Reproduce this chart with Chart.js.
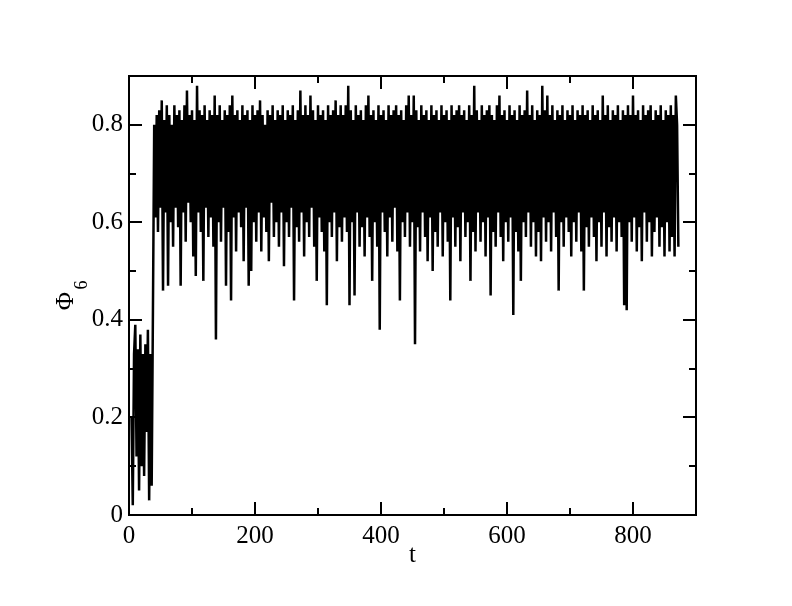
<!DOCTYPE html>
<html>
<head>
<meta charset="utf-8">
<script src="https://cdn.jsdelivr.net/npm/chart.js@4.4.1/dist/chart.umd.min.js"></script>
<style>
  html, body { margin: 0; padding: 0; background: #fff; }
  #wrap { width: 792px; height: 606px; }
</style>
</head>
<body>
<div id="wrap"><canvas id="phiChart" width="792" height="606"></canvas></div>
<script>
// time samples: t = 4, 6, 8, ... 872
const tStart = 4;
const tStep = 2;

// disordered phase, t = 4..36
const phiEarly = [.20,.02,.33,.39,.12,.34,.05,.37,.10,.33,.08,.35,.17,.38,.03,.33,.06];
// t = 38..136
const phi1 = [.42,.80,.61,.82,.58,.83,.63,.85,.46,.81,.62,.84,.47,.82,.60,.80,.55,.84,.63,.82,.59,.83,.47,.81,.62,.84,.56,.87,.64,.82,.60,.83,.53,.81,.49,.88,.62,.83,.58,.82,.48,.84,.63,.81,.57,.83,.61,.82,.55,.86];
// t = 138..236
const phi2 = [.36,.82,.60,.84,.56,.81,.63,.83,.47,.82,.58,.84,.44,.86,.61,.82,.54,.83,.62,.81,.59,.84,.52,.82,.63,.83,.47,.81,.50,.84,.60,.82,.56,.83,.62,.85,.54,.82,.61,.80,.58,.83,.52,.82,.64,.84,.57,.81,.60,.83];
// t = 238..336
const phi3 = [.55,.82,.62,.84,.51,.81,.60,.83,.57,.82,.63,.84,.44,.81,.59,.83,.56,.87,.62,.82,.53,.84,.60,.82,.57,.86,.63,.83,.55,.81,.48,.84,.61,.82,.58,.83,.54,.81,.43,.84,.60,.82,.57,.83,.62,.85,.52,.82,.59,.84];
// t = 338..436
const phi4 = [.56,.82,.61,.84,.58,.88,.43,.83,.60,.81,.45,.84,.62,.82,.55,.83,.59,.81,.53,.84,.61,.86,.57,.82,.48,.83,.60,.81,.55,.84,.38,.82,.62,.83,.58,.81,.53,.84,.61,.82,.56,.83,.63,.84,.54,.82,.44,.83,.60,.81];
// t = 438..536
const phi5 = [.57,.84,.62,.86,.55,.82,.60,.86,.35,.83,.59,.81,.54,.84,.62,.82,.57,.83,.52,.81,.61,.84,.50,.82,.58,.83,.55,.81,.62,.84,.53,.82,.60,.83,.56,.81,.44,.84,.61,.82,.55,.83,.59,.84,.52,.82,.62,.83,.57,.81];
// t = 538..636
const phi6 = [.60,.84,.48,.82,.58,.88,.54,.83,.62,.81,.56,.84,.60,.82,.53,.83,.61,.84,.45,.82,.58,.81,.55,.84,.62,.86,.57,.82,.52,.83,.60,.81,.56,.84,.61,.82,.41,.83,.58,.81,.54,.84,.48,.82,.60,.83,.57,.87,.62,.82];
// t = 638..736
const phi7 = [.55,.84,.60,.81,.53,.83,.58,.82,.52,.88,.61,.83,.56,.86,.60,.82,.54,.84,.62,.81,.57,.83,.46,.82,.60,.84,.55,.81,.61,.83,.58,.82,.53,.84,.60,.81,.56,.83,.62,.82,.54,.84,.46,.82,.59,.83,.55,.81,.61,.84];
// t = 738..836
const phi8 = [.57,.82,.52,.83,.60,.81,.55,.86,.62,.82,.53,.84,.59,.81,.56,.83,.61,.82,.54,.84,.60,.81,.57,.83,.43,.82,.42,.84,.60,.82,.56,.86,.61,.82,.54,.83,.59,.81,.52,.84,.62,.82,.56,.83,.60,.84,.53,.81,.58,.83];
// t = 838..872
const phi9 = [.61,.82,.55,.84,.59,.81,.53,.83,.60,.82,.54,.84,.57,.82,.53,.86,.80,.55];

const xTicksMajor = [0, 200, 400, 600, 800];
const xTicksMinor = [100, 300, 500, 700];
const yTicksMajor = [0, 0.2, 0.4, 0.6, 0.8];
const yTicksMinor = [0.1, 0.3, 0.5, 0.7];

const allPhi = [].concat(phiEarly, phi1, phi2, phi3, phi4, phi5, phi6, phi7, phi8, phi9);
const points = allPhi.map((v, i) => ({ x: tStart + i * tStep, y: v }));

const serif = "'Liberation Serif', 'Times New Roman', serif";

// frame, inside ticks on all four sides, and the Phi_6 axis label
const framePlugin = {
    id: 'frame',
    afterDraw(chart) {
        const { ctx, chartArea: a, scales } = chart;
        const xs = scales.x, ys = scales.y;
        ctx.save();
        ctx.strokeStyle = '#000';
        ctx.lineWidth = 2;
        ctx.strokeRect(a.left, a.top, a.right - a.left, a.bottom - a.top);

        ctx.beginPath();
        const xTick = (v, len) => {
            const px = Math.round(xs.getPixelForValue(v));
            ctx.moveTo(px, a.bottom); ctx.lineTo(px, a.bottom - len);
            ctx.moveTo(px, a.top); ctx.lineTo(px, a.top + len);
        };
        const yTick = (v, len) => {
            const py = Math.round(ys.getPixelForValue(v));
            ctx.moveTo(a.left, py); ctx.lineTo(a.left + len, py);
            ctx.moveTo(a.right, py); ctx.lineTo(a.right - len, py);
        };
        xTicksMajor.forEach(v => xTick(v, 13));
        xTicksMinor.forEach(v => xTick(v, 7));
        yTicksMajor.forEach(v => yTick(v, 13));
        yTicksMinor.forEach(v => yTick(v, 7));
        ctx.stroke();

        // y axis title, rotated, with subscript
        ctx.fillStyle = '#000';
        ctx.translate(73, 301);
        ctx.rotate(-Math.PI / 2);
        ctx.textAlign = 'center';
        ctx.textBaseline = 'alphabetic';
        ctx.font = '25px ' + serif;
        ctx.fillText('\u03A6', 0, 0);
        ctx.font = '18px ' + serif;
        ctx.fillText('6', 16, 14);
        ctx.restore();
    }
};

const ctx = document.getElementById('phiChart').getContext('2d');

const config = {
    type: 'line',
    data: {
        datasets: [{
            data: points,
            borderColor: '#000',
            borderWidth: 2.5,
            pointRadius: 0,
            tension: 0,
            fill: false
        }]
    },
    options: {
        responsive: false,
        animation: false,
        events: [],
        layout: { padding: { left: 0, right: 96, top: 76, bottom: 0 } },
        plugins: {
            legend: { display: false },
            tooltip: { enabled: false }
        },
        scales: {
            x: {
                type: 'linear',
                min: 0,
                max: 900,
                grid: { display: false, drawTicks: false },
                border: { display: false },
                ticks: {
                    stepSize: 200,
                    includeBounds: false,
                    color: '#000',
                    padding: 6,
                    maxRotation: 0,
                    font: { family: serif, size: 25 }
                },
                title: {
                    display: true,
                    text: 't',
                    color: '#000',
                    font: { family: serif, size: 25 },
                    padding: { top: 0, bottom: 36 }
                },
                afterFit(scale) { scale.height = 91; }
            },
            y: {
                type: 'linear',
                min: 0,
                max: 0.9,
                grid: { display: false, drawTicks: false },
                border: { display: false },
                ticks: {
                    stepSize: 0.2,
                    includeBounds: false,
                    color: '#000',
                    padding: 6,
                    font: { family: serif, size: 25 },
                    callback: v => (v === 0 ? '0' : v.toFixed(1))
                },
                afterFit(scale) { scale.width = 129; }
            }
        }
    },
    plugins: [framePlugin]
};

const chart = new Chart(ctx, config);
</script>
</body>
</html>
